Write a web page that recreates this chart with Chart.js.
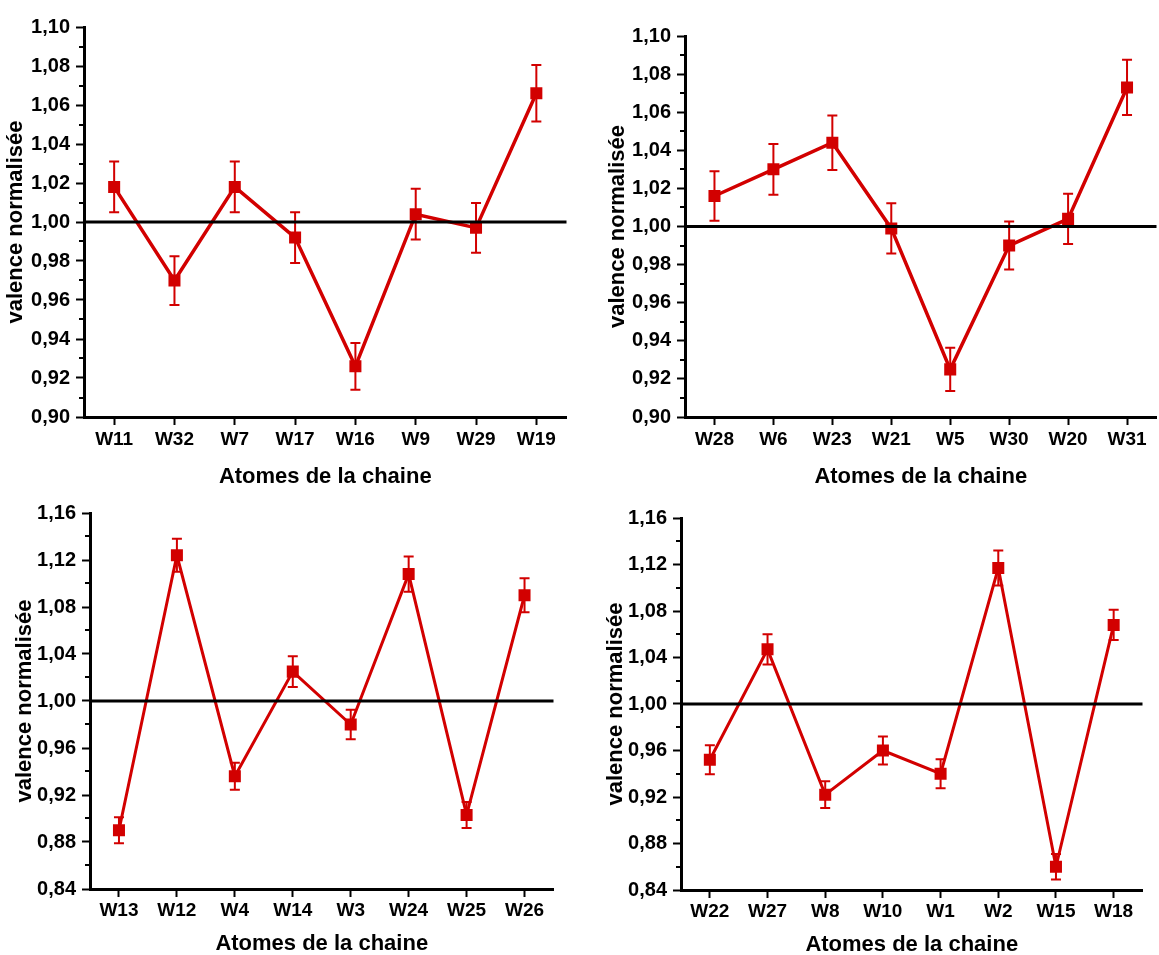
<!DOCTYPE html>
<html>
<head>
<meta charset="utf-8">
<script src="https://cdn.jsdelivr.net/npm/chart.js@4.4.1/dist/chart.umd.min.js"></script>
<style>
  html, body { margin: 0; padding: 0; background: #fff; overflow: hidden; }
  body { width: 1159px; height: 955px; position: relative; }
  canvas { position: absolute; }
</style>
</head>
<body>
<canvas id="c1"></canvas>
<canvas id="c2"></canvas>
<canvas id="c3"></canvas>
<canvas id="c4"></canvas>
<script>
// panel 1 (top left)
const names1 = ["W11", "W32", "W7", "W17", "W16", "W9", "W29", "W19"];
const values1 = [1.018, 0.970, 1.018, 0.992, 0.926, 1.004, 0.997, 1.066];
const errors1 = [0.013, 0.0125, 0.013, 0.013, 0.012, 0.013, 0.0128, 0.0145];

// panel 2 (top right)
const names2 = ["W28", "W6", "W23", "W21", "W5", "W30", "W20", "W31"];
const values2 = [1.016, 1.030, 1.044, 0.999, 0.925, 0.990, 1.004, 1.073];
const errors2 = [0.013, 0.0133, 0.0143, 0.0132, 0.0113, 0.0126, 0.0132, 0.0145];

// panel 3 (bottom left)
const names3 = ["W13", "W12", "W4", "W14", "W3", "W24", "W25", "W26"];
const values3 = [0.890, 1.124, 0.936, 1.025, 0.980, 1.108, 0.903, 1.090];
const errors3 = [0.011, 0.014, 0.0115, 0.013, 0.0125, 0.015, 0.011, 0.0145];

// panel 4 (bottom right)
const names4 = ["W22", "W27", "W8", "W10", "W1", "W2", "W15", "W18"];
const values4 = [0.952, 1.047, 0.922, 0.960, 0.940, 1.117, 0.860, 1.068];
const errors4 = [0.0125, 0.013, 0.0115, 0.012, 0.0125, 0.015, 0.011, 0.013];

// y ranges: min, max, step between labels
const yTop = [0.90, 1.10, 0.02];
const yBottom = [0.84, 1.16, 0.04];

const RED = "#d20000";
const FONT = "'Liberation Sans', Arial, Helvetica, sans-serif";

// error bars drawn under the line and markers
const errorBars = {
  id: "errorBars",
  beforeDatasetsDraw(chart) {
    const ctx = chart.ctx;
    const y = chart.scales.y;
    const ds = chart.data.datasets[0];
    const meta = chart.getDatasetMeta(0);
    ctx.save();
    ctx.strokeStyle = RED;
    ctx.lineWidth = 2;
    meta.data.forEach((pt, i) => {
      const v = ds.data[i], e = ds.errors[i];
      const y1 = y.getPixelForValue(v + e);
      const y2 = y.getPixelForValue(v - e);
      ctx.beginPath();
      ctx.moveTo(pt.x, y1); ctx.lineTo(pt.x, y2);
      ctx.moveTo(pt.x - 5, y1); ctx.lineTo(pt.x + 5, y1);
      ctx.moveTo(pt.x - 5, y2); ctx.lineTo(pt.x + 5, y2);
      ctx.stroke();
    });
    ctx.restore();
  }
};

// horizontal line at 1,00 on top of the data
const refLine = {
  id: "refLine",
  afterDatasetsDraw(chart) {
    const ctx = chart.ctx, a = chart.chartArea;
    const yy = chart.scales.y.getPixelForValue(1);
    ctx.save();
    ctx.strokeStyle = "#000";
    ctx.lineWidth = 3;
    ctx.beginPath();
    ctx.moveTo(a.left, yy); ctx.lineTo(a.right, yy);
    ctx.stroke();
    ctx.restore();
  }
};

// short minor ticks between labelled ones
const minorTicks = {
  id: "minorTicks",
  afterDraw(chart) {
    const ctx = chart.ctx, s = chart.scales.y, a = chart.chartArea;
    const step = s.options.ticks.stepSize;
    ctx.save();
    ctx.strokeStyle = "#000";
    ctx.lineWidth = 2;
    for (let v = s.min + step / 2; v < s.max; v += step) {
      const yy = Math.round(s.getPixelForValue(v));
      ctx.beginPath();
      ctx.moveTo(a.left - 5, yy); ctx.lineTo(a.left, yy);
      ctx.stroke();
    }
    ctx.restore();
  }
};

function makePanel(id, box, names, values, errors, range) {
  const el = document.getElementById(id);
  el.width = box.w; el.height = box.h;
  el.style.left = box.left + "px";
  el.style.top = box.top + "px";

  return new Chart(el, {
    type: "line",
    data: {
      labels: names,
      datasets: [{
        data: values,
        errors: errors,
        borderColor: RED,
        backgroundColor: RED,
        borderWidth: box.lw,
        pointStyle: "rect",
        pointRadius: 8.5,
        pointBorderWidth: 0,
        tension: 0
      }]
    },
    options: {
      responsive: false,
      animation: false,
      layout: { padding: { top: 14, left: 0, right: 0, bottom: 0 } },
      plugins: { legend: { display: false }, tooltip: { enabled: false } },
      scales: {
        x: {
          type: "category",
          offset: true,
          grid: { drawOnChartArea: false, tickLength: 8, tickWidth: 2, tickColor: "#000", offset: false },
          border: { color: "#000", width: 3 },
          ticks: { color: "#000", font: { family: FONT, size: 19, weight: "bold" }, padding: box.xPad, maxRotation: 0, autoSkip: false },
          title: { display: true, text: "Atomes de la chaine", color: "#000", font: { family: FONT, size: 22, weight: "bold" }, padding: 0 },
          afterFit: s => { s.height = box.xH; }
        },
        y: {
          min: range[0],
          max: range[1],
          grid: { drawOnChartArea: false, tickLength: 8, tickWidth: 2, tickColor: "#000" },
          border: { color: "#000", width: 3 },
          ticks: {
            stepSize: range[2],
            color: "#000",
            font: { family: FONT, size: 20, weight: "bold" },
            padding: 6,
            callback: v => v.toFixed(2).replace(".", ",")
          },
          title: { display: true, text: "valence normalisée", color: "#000", font: { family: FONT, size: 22, weight: "bold" }, padding: { top: 3, bottom: 0 } },
          afterFit: s => { s.width = box.yW; }
        }
      }
    },
    plugins: [errorBars, refLine, minorTicks]
  });
}

makePanel("c1", { left: 0, top: 9, w: 575, h: 481, yW: 84, xH: 73, xPad: 3, lw: 3.5 }, names1, values1, errors1, yTop);
makePanel("c2", { left: 602, top: 18, w: 563, h: 472, yW: 83, xH: 73, xPad: 3, lw: 3.5 }, names2, values2, errors2, yTop);
makePanel("c3", { left: 9, top: 495, w: 553, h: 462, yW: 81, xH: 68, xPad: 2, lw: 3 }, names3, values3, errors3, yBottom);
makePanel("c4", { left: 600, top: 500, w: 551, h: 458, yW: 81, xH: 68, xPad: 2, lw: 3 }, names4, values4, errors4, yBottom);
</script>
</body>
</html>
